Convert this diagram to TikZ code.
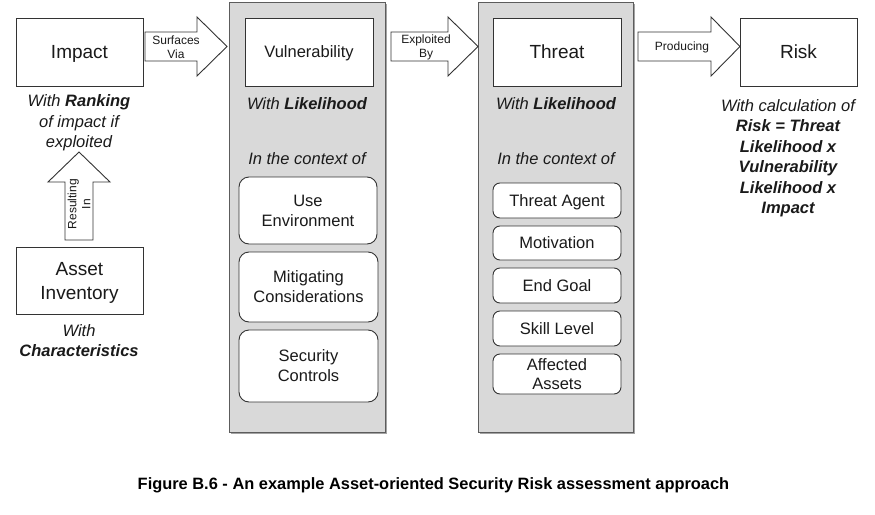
\documentclass[tikz,border=0pt]{standalone}
\usepackage{fontspec}
\setmainfont{Liberation Sans}
\usetikzlibrary{shadows}
\definecolor{panelgray}{HTML}{D9D9D9}
\definecolor{linegray}{HTML}{333333}
\definecolor{txt}{HTML}{1A1A1A}
\tikzset{
  mainbox/.style={draw=linegray, line width=0.9pt, fill=white, inner sep=0pt, text=txt, font=\fontsize{19}{23}\selectfont},
  onel/.style={text depth=0pt},
  vulnbox/.style={mainbox, font=\fontsize{16.5}{20}\selectfont},
  subbox/.style={draw=linegray, line width=0.9pt, fill=white, rounded corners=10pt, inner sep=0pt, align=center, text=txt, font=\fontsize{16.5}{20}\selectfont},
  smallsub/.style={subbox, rounded corners=7pt, font=\fontsize{16.5}{19}\selectfont},
  panel/.style={draw=linegray!80!white, line width=0.9pt, fill=panelgray, drop shadow={shadow xshift=2pt, shadow yshift=-2pt, fill=black!45, opacity=0.8}},
  note/.style={align=center, inner sep=0pt, text=txt, font=\fontsize{16.5}{20.5}\selectfont\itshape},
  blockarrow/.style={draw=linegray, line width=0.9pt, fill=white, line join=miter},
  arrowlabel/.style={align=center, inner sep=0pt, text=txt, font=\fontsize{12}{14}\selectfont},
}
\begin{document}
\begin{tikzpicture}[x=1pt,y=-1pt]
\useasboundingbox (0,0) rectangle (875,514);
\fill[white] (0,0) rectangle (875,514);

% panels
\path[panel] (229,2) rectangle (385,432);
\path[panel] (478,2) rectangle (633,432);

% main boxes
\node[mainbox, onel, minimum width=127pt, minimum height=68pt] (impact) at (79.5,52) {Impact};
\node[vulnbox, onel, minimum width=128pt, minimum height=68pt] (vuln) at (309,52) {Vulnerability};
\node[mainbox, onel, minimum width=128pt, minimum height=68pt] (threat) at (557,52) {Threat};
\node[mainbox, onel, minimum width=117pt, minimum height=68pt] (risk) at (798.5,52) {Risk};
\node[mainbox, onel, minimum width=127pt, minimum height=67pt, align=center, font=\fontsize{19}{24}\selectfont] (asset) at (79.5,280.5) {Asset\\Inventory};

% notes
\node[note] (impnote) at (79,123) {With \textbf{Ranking}\\of impact if\\exploited};
\node[note] (assetnote) at (79,340.5) {With\\\textbf{Characteristics}};
\node[note] (vulnlik) at (307,103.5) {With \textbf{Likelihood}};
\node[note] (vulnctx) at (307,159) {In the context of};
\node[note] (thrlik) at (556,103.5) {With \textbf{Likelihood}};
\node[note] (thrctx) at (556,159) {In the context of};
\node[note] (risknote) at (788,158) {With calculation of\\\textbf{Risk = Threat}\\\textbf{Likelihood x}\\\textbf{Vulnerability}\\\textbf{Likelihood x}\\\textbf{Impact}};

% vulnerability context boxes
\node[subbox, minimum width=138pt, minimum height=67pt] (useenv) at (308,210.5) {Use\\Environment};
\node[subbox, minimum width=139pt, minimum height=70pt] (mitig) at (308.5,287) {Mitigating\\Considerations};
\node[subbox, minimum width=139pt, minimum height=72pt] (secctl) at (308.5,366) {Security\\Controls};

% threat context boxes
\node[smallsub, onel, minimum width=128pt, minimum height=35pt] (agent) at (557,200.5) {Threat Agent};
\node[smallsub, onel, minimum width=128pt, minimum height=34pt] (motiv) at (557,243) {Motivation};
\node[smallsub, onel, minimum width=128pt, minimum height=35pt] (goal) at (557,285.5) {End Goal};
\node[smallsub, onel, minimum width=128pt, minimum height=35pt] (skill) at (557,328.5) {Skill Level};
\node[smallsub, minimum width=128pt, minimum height=40pt, font=\fontsize{16.5}{19}\selectfont] (affected) at (557,374) {Affected\\Assets};

% block arrows
\draw[blockarrow] (145,32) -- (197,32) -- (197,17) -- (227,46.5) -- (197,76) -- (197,61) -- (145,61) -- cycle;
\node[arrowlabel] (lsurf) at (176,47) {Surfaces\\Via};
\draw[blockarrow] (391,32) -- (448,32) -- (448,17) -- (478,46.5) -- (448,76) -- (448,61) -- (391,61) -- cycle;
\node[arrowlabel] (lexpl) at (426,47) {Exploited\\By};
\draw[blockarrow] (638,32) -- (711,32) -- (711,17) -- (740,46.5) -- (711,76) -- (711,61) -- (638,61) -- cycle;
\node[arrowlabel] (lprod) at (682,47) {Producing};
\draw[blockarrow] (65,240) -- (65,182) -- (48,182) -- (79,152) -- (110,182) -- (93,182) -- (93,240) -- cycle;
\node[arrowlabel, rotate=90] (lres) at (79,204) {Resulting\\In};

% caption
\node[inner sep=0pt, text=black, font=\fontsize{16.4}{19}\selectfont\bfseries] (caption) at (433.5,485) {Figure B.6 - An example Asset-oriented Security Risk assessment approach};
\end{tikzpicture}
\end{document}
